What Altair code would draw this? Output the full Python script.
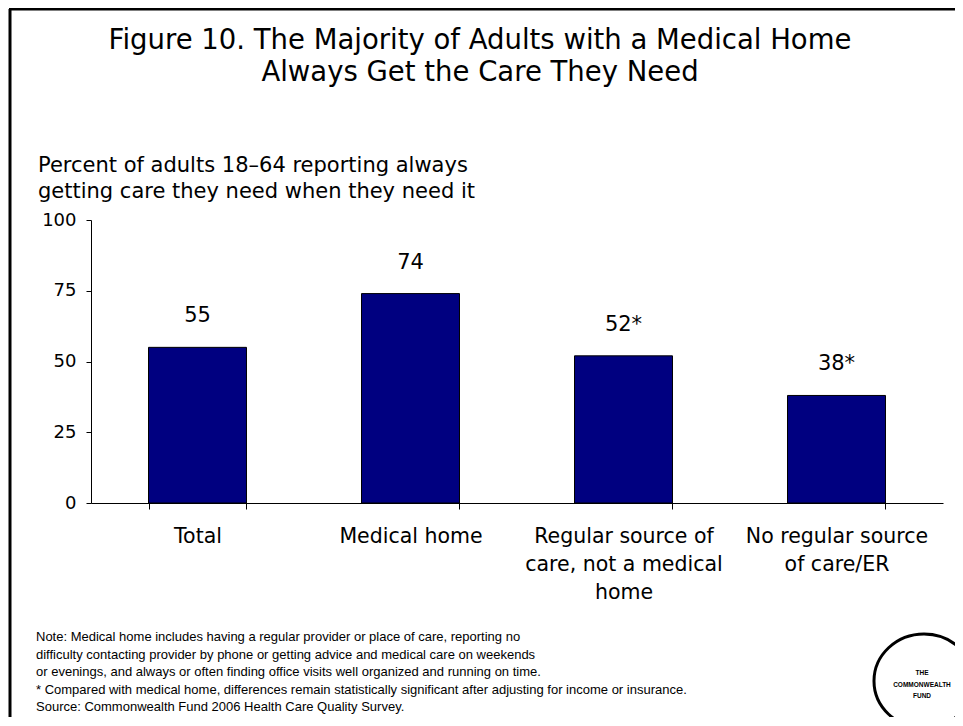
import altair as alt
import pandas as pd

# ---- data ----
categories = ["Total", "Medical home", "Regular source of|care, not a medical|home", "No regular source|of care/ER"]
values = [55, 74, 52, 38]
value_labels = ["55", "74", "52*", "38*"]
y_ticks = [0, 25, 50, 75, 100]

title_lines = ["Figure 10. The Majority of Adults with a Medical Home",
               "Always Get the Care They Need"]
subtitle_lines = ["Percent of adults 18\u201364 reporting always",
                  "getting care they need when they need it"]
note_lines = [
    "Note: Medical home includes having a regular provider or place of care, reporting no",
    "difficulty contacting provider by phone or getting advice and medical care on weekends",
    "or evenings, and always or often finding office visits well organized and running on time.",
    "* Compared with medical home, differences remain statistically significant after adjusting for income or insurance.",
    "Source: Commonwealth Fund 2006 Health Care Quality Survey.",
]
logo_lines = ["THE", "COMMONWEALTH", "FUND"]

df = pd.DataFrame({"cat": categories, "value": values, "label": value_labels})
one = pd.DataFrame({"k": [0]})

FONT = "DejaVu Sans"
W, H = 852, 283

x = alt.X("cat:N", sort=None, title=None,
          scale=alt.Scale(paddingInner=0.54, paddingOuter=0.27),
          axis=alt.Axis(labelAngle=0, tickBand="extent", tickSize=6, tickColor="black",
                        domainColor="black", labelFont=FONT, labelFontSize=20.5,
                        labelColor="black", labelPadding=17, labelLineHeight=28,
                        labelExpr="split(datum.label, '|')", labelLimit=0))
y = alt.Y("value:Q", title=None,
          scale=alt.Scale(domain=[0, 100]),
          axis=alt.Axis(values=y_ticks, grid=False, tickSize=5, tickColor="black",
                        domainColor="black", labelFont=FONT, labelFontSize=18,
                        labelColor="black", labelPadding=10))

bars = alt.Chart(df).mark_bar(color="#000080", stroke="black", strokeWidth=1).encode(x=x, y=y)
labels = alt.Chart(df).mark_text(font=FONT, fontSize=21, baseline="alphabetic",
                                 dy=-25, color="black").encode(
    x=alt.X("cat:N", sort=None), y="value:Q", text="label:N")

title = alt.Chart(one).mark_text(text=title_lines, font=FONT, fontSize=27.5, lineHeight=32,
                                 align="center", baseline="alphabetic", color="black").encode(
    x=alt.value(389), y=alt.value(-171))
subtitle = alt.Chart(one).mark_text(text=subtitle_lines, font=FONT, fontSize=21, lineHeight=26,
                                    align="left", baseline="alphabetic", color="black").encode(
    x=alt.value(-53), y=alt.value(-48))
notes = alt.Chart(one).mark_text(text=note_lines, font="Liberation Sans", fontSize=13,
                                 lineHeight=17.5, align="left", baseline="alphabetic",
                                 color="black").encode(
    x=alt.value(-55), y=alt.value(421))

border_left = alt.Chart(one).mark_rule(color="black", strokeWidth=3).encode(
    x=alt.value(-81), x2=alt.value(-81), y=alt.value(-211), y2=alt.value(500))
border_top = alt.Chart(one).mark_rule(color="black", strokeWidth=3).encode(
    x=alt.value(-82), x2=alt.value(870), y=alt.value(-211), y2=alt.value(-211))

ellipse = "M -1.064 0 A 1.064 1 0 1 1 1.064 0 A 1.064 1 0 1 1 -1.064 0 Z"
logo = alt.Chart(one).mark_point(shape=ellipse, size=8836, filled=False, stroke="black",
                                 strokeWidth=3, opacity=1).encode(
    x=alt.value(833), y=alt.value(461))
logo_text = alt.Chart(one).mark_text(text=logo_lines, font="Liberation Sans", fontWeight="bold",
                                     fontSize=6.5, lineHeight=11.5, align="center",
                                     baseline="middle", color="black").encode(
    x=alt.value(831), y=alt.value(453))

chart = alt.layer(bars, labels, title, subtitle, notes, border_left, border_top, logo, logo_text).properties(
    width=W, height=H,
    autosize=alt.AutoSizeParams(type="none"),
    padding={"left": 83, "top": 212, "right": 12, "bottom": 214},
    background="white",
).configure_view(stroke=None)

chart.save("out.html", embed_options={"renderer": "svg", "actions": False})
